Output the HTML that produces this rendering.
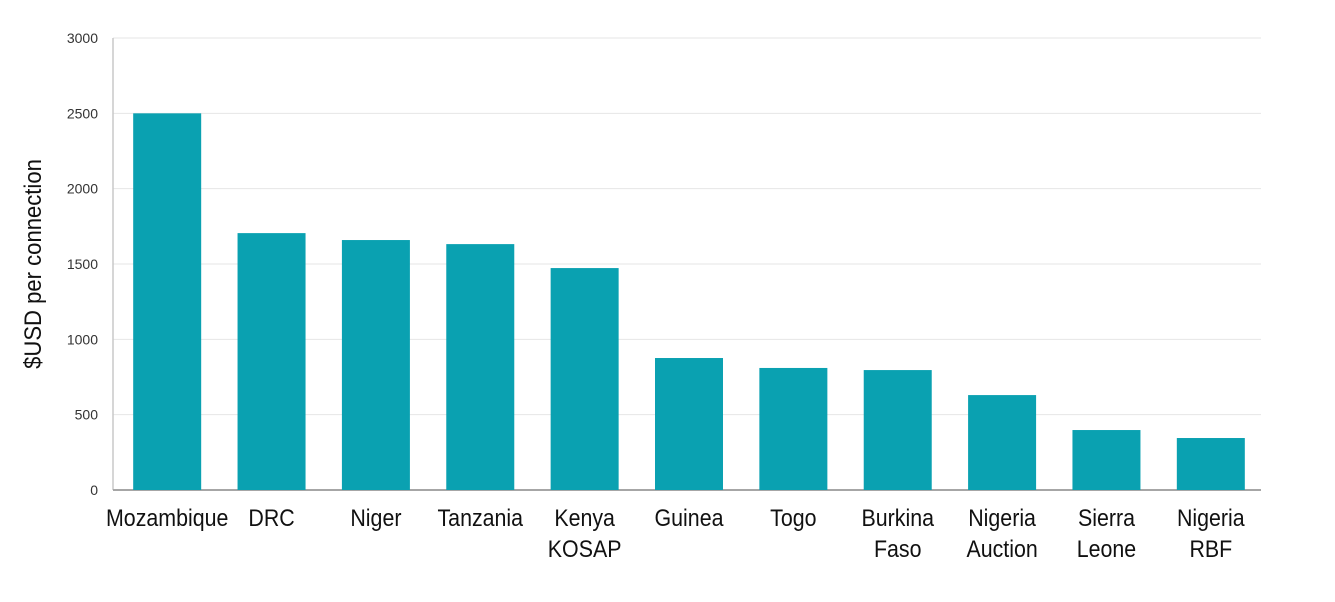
<!DOCTYPE html>
<html><head><meta charset="utf-8"><style>
body{margin:0;background:#fff;width:1335px;height:597px;overflow:hidden;font-family:"Liberation Sans",sans-serif}
</style></head><body>
<svg id="chart" width="1335" height="597" xmlns="http://www.w3.org/2000/svg">
<text transform="translate(41,264) rotate(-90) scale(0.92,1)" text-anchor="middle" font-size="24" fill="#111">$USD per connection</text>
<g id="grid"></g><g id="bars"></g><g id="labels"></g>
</svg>
<script>
const categories=[["Mozambique"],["DRC"],["Niger"],["Tanzania"],["Kenya","KOSAP"],["Guinea"],["Togo"],["Burkina","Faso"],["Nigeria","Auction"],["Sierra","Leone"],["Nigeria","RBF"]];
const values=[2500,1705,1659,1632,1473,876,810,796,630,398,345];
const ticks=[0,500,1000,1500,2000,2500,3000];
const ns="http://www.w3.org/2000/svg";
const x0=113,x1=1261,yTop=38,yBot=490,maxV=3000;
const band=(x1-x0)/categories.length,bw=68;
const y=v=>yBot-(v/maxV)*(yBot-yTop);
function mk(tag,attrs,parent){const e=document.createElementNS(ns,tag);for(const k in attrs)e.setAttribute(k,attrs[k]);parent.appendChild(e);return e;}
const grid=document.getElementById('grid'),bars=document.getElementById('bars'),labels=document.getElementById('labels');
ticks.forEach(t=>{
  if(t>0){const l=mk('line',{x1:x0,x2:x1,y1:y(t),y2:y(t),stroke:'#e6e6e6','stroke-width':1},grid);
  
  }
  const tx=mk('text',{x:98,y:y(t)+5,'text-anchor':'end','font-size':14,fill:'#333'},grid);
  tx.textContent=t;
  
  
});
const ya=mk('line',{x1:x0,x2:x0,y1:yTop,y2:yBot,stroke:'#c8c8c8','stroke-width':1.5},grid);


values.forEach((v,i)=>{
  const cx=x0+band*(i+0.5)+2;
  const r=mk('rect',{x:cx-bw/2,y:y(v),width:bw,height:yBot-y(v),fill:'#0aa1b1'},bars);
  
  
  const t=mk('text',{transform:'translate('+cx+',526) scale(0.93,1.05)','text-anchor':'middle','font-size':23,fill:'#111'},labels);
  
  
  categories[i].forEach((s,j)=>{const ts=mk('tspan',{x:0,dy:j?29.5:0},t);ts.textContent=s;});
});
const xa=mk('line',{x1:x0,x2:x1,y1:yBot,y2:yBot,stroke:'#a6a6a6','stroke-width':2},grid);


</script>
</body></html>
